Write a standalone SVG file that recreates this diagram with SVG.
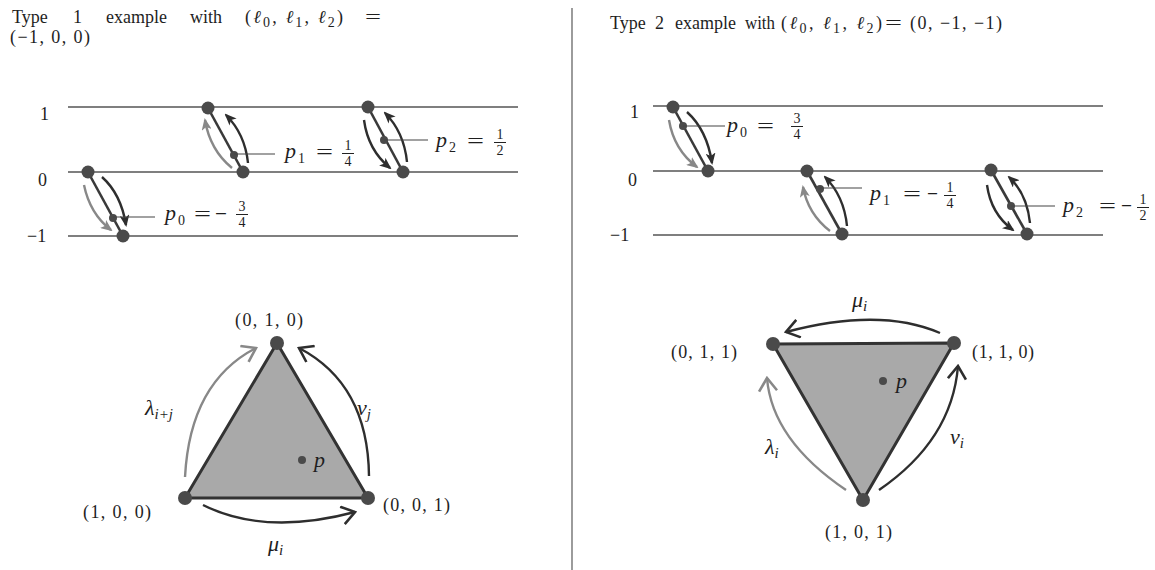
<svg xmlns="http://www.w3.org/2000/svg" width="1155" height="570" viewBox="0 0 1155 570">
<style>
  text { font-family: "Liberation Serif", "DejaVu Serif", serif; fill: #1e1e1e; }
  .t { font-size: 18px; }
  .m { font-size: 22px; font-style: italic; }
  .n { font-size: 18px; }
  .eq { font-size: 22px; }
  .s { font-size: 15px; font-style: italic; }
  .sn { font-size: 14px; }
  .fr { font-size: 14px; text-anchor: middle; }
  .lvl { stroke: #555; stroke-width: 1.3; fill: none; }
  .seg { stroke: #3a3a3a; stroke-width: 2.6; }
  .dot { fill: #4a4a4a; }
  .ad { fill: none; stroke: #2e2e2e; stroke-width: 2.4; }
  .ag { fill: none; stroke: #888; stroke-width: 2.4; }
  .lead { stroke: #444; stroke-width: 1.2; }
  .bar { stroke: #222; stroke-width: 1; }
  .tri { fill: #a9a9a9; stroke: #333; stroke-width: 3; stroke-linejoin: round; }
</style>
<defs>
  <marker id="hd" viewBox="0 0 12 10" refX="10" refY="5" markerWidth="12" markerHeight="10" orient="auto" markerUnits="userSpaceOnUse">
    <path d="M0,0 L12,5 L0,10 L3,5 z" fill="#2e2e2e"/>
  </marker>
  <marker id="hg" viewBox="0 0 12 10" refX="10" refY="5" markerWidth="12" markerHeight="10" orient="auto" markerUnits="userSpaceOnUse">
    <path d="M0,0 L12,5 L0,10 L3,5 z" fill="#888"/>
  </marker>
  <marker id="cd" viewBox="0 0 16 20" refX="14" refY="10" markerWidth="16" markerHeight="20" orient="auto" markerUnits="userSpaceOnUse">
    <path d="M1,1 L14,10 L1,19" fill="none" stroke="#2e2e2e" stroke-width="2.6"/>
  </marker>
  <marker id="cg" viewBox="0 0 16 20" refX="14" refY="10" markerWidth="16" markerHeight="20" orient="auto" markerUnits="userSpaceOnUse">
    <path d="M1,1 L14,10 L1,19" fill="none" stroke="#888" stroke-width="2.6"/>
  </marker>
</defs>

<!-- divider -->
<line x1="572" y1="8" x2="572" y2="570" stroke="#666" stroke-width="1.3"/>

<!-- titles -->
<g id="title1">
  <text class="t" x="12" y="23">Type</text>
  <text class="t" x="73" y="23">1</text>
  <text class="t" x="106" y="23">example</text>
  <text class="t" x="190" y="23">with</text>
  <text class="t" x="245" y="23" font-size="20" textLength="98" lengthAdjust="spacing">(<tspan font-style="italic">ℓ</tspan><tspan class="sn" dy="4">0</tspan><tspan dy="-4">, </tspan><tspan font-style="italic">ℓ</tspan><tspan class="sn" dy="4">1</tspan><tspan dy="-4">, </tspan><tspan font-style="italic">ℓ</tspan><tspan class="sn" dy="4">2</tspan><tspan dy="-4">)</tspan></text>
  <text class="t" x="365" y="23" textLength="16" lengthAdjust="spacingAndGlyphs">=</text>
  <text class="t" x="10" y="43" font-size="19" textLength="80" lengthAdjust="spacing">(−1, 0, 0)</text>
</g>
<g id="title2">
  <text class="t" x="610" y="29">Type</text>
  <text class="t" x="655" y="29">2</text>
  <text class="t" x="675" y="29">example</text>
  <text class="t" x="745" y="29" textLength="30" lengthAdjust="spacingAndGlyphs">with</text>
  <text class="t" x="781" y="29" font-size="20" textLength="101" lengthAdjust="spacing">(<tspan font-style="italic">ℓ</tspan><tspan class="sn" dy="4">0</tspan><tspan dy="-4">, </tspan><tspan font-style="italic">ℓ</tspan><tspan class="sn" dy="4">1</tspan><tspan dy="-4">, </tspan><tspan font-style="italic">ℓ</tspan><tspan class="sn" dy="4">2</tspan><tspan dy="-4">)</tspan></text>
  <text class="t" x="885" y="29" textLength="17" lengthAdjust="spacingAndGlyphs">=</text>
  <text class="t" x="910" y="29" font-size="19" textLength="92" lengthAdjust="spacing">(0, −1, −1)</text>
</g>

<!-- level lines left -->
<g id="levels-left">
  <line class="lvl" x1="68" y1="107" x2="518" y2="107"/>
  <line class="lvl" x1="68" y1="172" x2="518" y2="172"/>
  <line class="lvl" x1="68" y1="236" x2="518" y2="236"/>
  <text class="n" x="40" y="120">1</text>
  <text class="n" x="38" y="186">0</text>
  <text class="n" x="27" y="242">−1</text>
</g>
<!-- level lines right -->
<g id="levels-right">
  <line class="lvl" x1="653" y1="106" x2="1103" y2="106"/>
  <line class="lvl" x1="653" y1="171" x2="1103" y2="171"/>
  <line class="lvl" x1="653" y1="235" x2="1103" y2="235"/>
  <text class="n" x="630" y="118">1</text>
  <text class="n" x="628" y="186">0</text>
  <text class="n" x="610" y="241">−1</text>
</g>

<!-- connectors (arrows) -->
<g id="connectors">
  <!-- left segments -->
  <path class="ad" d="M102,177 Q121,194 126,225" marker-end="url(#hd)"/>
  <path class="ag" d="M84,185 Q90,214 111,230" marker-end="url(#hg)"/>
  <path class="ad" d="M248,163 Q245,134 226,115" marker-end="url(#hd)"/>
  <path class="ag" d="M232,168 Q210,150 205,120" marker-end="url(#hg)"/>
  <path class="ad" d="M407,162 Q404,132 385,113" marker-end="url(#hd)"/>
  <path class="ad" d="M364,120 Q368,150 390,168" marker-end="url(#hd)"/>
  <!-- right segments -->
  <path class="ad" d="M687,112 Q707,130 712,163" marker-end="url(#hd)"/>
  <path class="ag" d="M669,120 Q674,150 697,167" marker-end="url(#hg)"/>
  <path class="ad" d="M847,226 Q844,196 825,177" marker-end="url(#hd)"/>
  <path class="ag" d="M830,231 Q808,214 803,187" marker-end="url(#hg)"/>
  <path class="ad" d="M1030,223 Q1027,194 1009,177" marker-end="url(#hd)"/>
  <path class="ad" d="M987,185 Q991,214 1013,230" marker-end="url(#hd)"/>
  <!-- left triangle arrows -->
  <path class="ag" d="M185,477 Q190,382 256,348" marker-end="url(#cg)"/>
  <path class="ad" d="M369,476 Q368,384 299,348" marker-end="url(#cd)"/>
  <path class="ad" d="M203,505 Q265,536 355,512" marker-end="url(#cd)"/>
  <!-- right triangle arrows -->
  <path class="ad" d="M940,333 Q880,307 786,332" marker-end="url(#cd)"/>
  <path class="ag" d="M846,490 Q772,440 767,378" marker-end="url(#cg)"/>
  <path class="ad" d="M879,490 Q952,440 958,366" marker-end="url(#cd)"/>
</g>

<!-- left segment nodes -->
<g id="seg-left-0">
  <line class="seg" x1="88" y1="172" x2="123" y2="236"/>
  <circle class="dot" cx="88" cy="172" r="6.5"/>
  <circle class="dot" cx="123" cy="236" r="6.5"/>
  <circle class="dot" cx="113" cy="218" r="4"/>
  <line class="lead" x1="113" y1="217" x2="155" y2="217"/>
  <text class="m" x="165" y="220">p</text><text class="sn" x="178" y="225">0</text>
  <text class="eq" x="194" y="221" textLength="17" lengthAdjust="spacingAndGlyphs">=</text>
  <text class="eq" x="215" y="221" textLength="12" lengthAdjust="spacingAndGlyphs">−</text>
  <text class="fr" x="242" y="211">3</text><line class="bar" x1="236" y1="214.5" x2="248" y2="214.5"/><text class="fr" x="242" y="227">4</text>
</g>
<g id="seg-left-1">
  <line class="seg" x1="208" y1="108" x2="243" y2="172"/>
  <circle class="dot" cx="208" cy="108" r="6.5"/>
  <circle class="dot" cx="243" cy="172" r="6.5"/>
  <circle class="dot" cx="234" cy="155" r="4"/>
  <line class="lead" x1="234" y1="154" x2="275" y2="154"/>
  <text class="m" x="285" y="158">p</text><text class="sn" x="298" y="163">1</text>
  <text class="eq" x="316" y="159" textLength="17" lengthAdjust="spacingAndGlyphs">=</text>
  <text class="fr" x="348" y="150">1</text><line class="bar" x1="342" y1="153.5" x2="354" y2="153.5"/><text class="fr" x="348" y="166">4</text>
</g>
<g id="seg-left-2">
  <line class="seg" x1="368" y1="107" x2="403" y2="172"/>
  <circle class="dot" cx="368" cy="107" r="6.5"/>
  <circle class="dot" cx="403" cy="172" r="6.5"/>
  <circle class="dot" cx="384" cy="140" r="4"/>
  <line class="lead" x1="384" y1="140" x2="428" y2="140"/>
  <text class="m" x="436" y="147">p</text><text class="sn" x="449" y="152">2</text>
  <text class="eq" x="467" y="148" textLength="17" lengthAdjust="spacingAndGlyphs">=</text>
  <text class="fr" x="500" y="139">1</text><line class="bar" x1="494" y1="142.5" x2="506" y2="142.5"/><text class="fr" x="500" y="155">2</text>
</g>

<!-- right segment nodes -->
<g id="seg-right-0">
  <line class="seg" x1="673" y1="107" x2="708" y2="171"/>
  <circle class="dot" cx="673" cy="107" r="6.5"/>
  <circle class="dot" cx="708" cy="171" r="6.5"/>
  <circle class="dot" cx="683" cy="126" r="4"/>
  <line class="lead" x1="683" y1="126" x2="725" y2="126"/>
  <text class="m" x="727" y="132">p</text><text class="sn" x="740" y="137">0</text>
  <text class="eq" x="757" y="133" textLength="17" lengthAdjust="spacingAndGlyphs">=</text>
  <text class="fr" x="797" y="123">3</text><line class="bar" x1="791" y1="126.5" x2="803" y2="126.5"/><text class="fr" x="797" y="139">4</text>
</g>
<g id="seg-right-1">
  <line class="seg" x1="807" y1="171" x2="842" y2="234"/>
  <circle class="dot" cx="807" cy="171" r="6.5"/>
  <circle class="dot" cx="842" cy="234" r="6.5"/>
  <circle class="dot" cx="820" cy="189" r="4"/>
  <line class="lead" x1="820" y1="188" x2="862" y2="188"/>
  <text class="m" x="870" y="200">p</text><text class="sn" x="883" y="205">1</text>
  <text class="eq" x="903" y="201" textLength="18" lengthAdjust="spacingAndGlyphs">=</text>
  <text class="eq" x="927" y="201" textLength="11" lengthAdjust="spacingAndGlyphs">−</text>
  <text class="fr" x="950" y="192">1</text><line class="bar" x1="944" y1="195.5" x2="956" y2="195.5"/><text class="fr" x="950" y="208">4</text>
</g>
<g id="seg-right-2">
  <line class="seg" x1="991" y1="170" x2="1027" y2="234"/>
  <circle class="dot" cx="991" cy="170" r="6.5"/>
  <circle class="dot" cx="1027" cy="234" r="6.5"/>
  <circle class="dot" cx="1011" cy="206" r="4"/>
  <line class="lead" x1="1011" y1="206" x2="1055" y2="206"/>
  <text class="m" x="1063" y="212">p</text><text class="sn" x="1076" y="217">2</text>
  <text class="eq" x="1099" y="213" textLength="17" lengthAdjust="spacingAndGlyphs">=</text>
  <text class="eq" x="1121" y="213" textLength="11" lengthAdjust="spacingAndGlyphs">−</text>
  <text class="fr" x="1143" y="204">1</text><line class="bar" x1="1137" y1="207.5" x2="1149" y2="207.5"/><text class="fr" x="1143" y="220">2</text>
</g>

<!-- left triangle -->
<g id="triangle-left">
  <polygon class="tri" points="185,498 277,343 368,498"/>
  <circle class="dot" cx="277" cy="343" r="7"/>
  <circle class="dot" cx="185" cy="498" r="7"/>
  <circle class="dot" cx="368" cy="498" r="7"/>
  <circle class="dot" cx="302" cy="460" r="4"/>
  <text class="m" x="314" y="467" font-size="19">p</text>
  <text class="n" x="269" y="326" text-anchor="middle" textLength="68" lengthAdjust="spacing">(0, 1, 0)</text>
  <text class="n" x="83" y="518" textLength="68" lengthAdjust="spacing">(1, 0, 0)</text>
  <text class="n" x="383" y="511" textLength="67" lengthAdjust="spacing">(0, 0, 1)</text>
  <text class="m" x="145" y="415">λ<tspan class="s" dy="4">i+j</tspan></text>
  <text class="m" x="357" y="415">ν<tspan class="s" dy="4">j</tspan></text>
  <text class="m" x="268" y="551">μ<tspan class="s" dy="4">i</tspan></text>
</g>

<!-- right triangle -->
<g id="triangle-right">
  <polygon class="tri" points="773,344 954,343 863,500"/>
  <circle class="dot" cx="773" cy="344" r="7"/>
  <circle class="dot" cx="954" cy="343" r="7"/>
  <circle class="dot" cx="863" cy="500" r="7"/>
  <circle class="dot" cx="883" cy="381" r="4"/>
  <text class="m" x="896" y="388" font-size="19">p</text>
  <text class="n" x="671" y="358" textLength="66" lengthAdjust="spacing">(0, 1, 1)</text>
  <text class="n" x="972" y="358" textLength="62" lengthAdjust="spacing">(1, 1, 0)</text>
  <text class="n" x="825" y="538" textLength="67" lengthAdjust="spacing">(1, 0, 1)</text>
  <text class="m" x="852" y="307">μ<tspan class="s" dy="4">i</tspan></text>
  <text class="m" x="765" y="454">λ<tspan class="s" dy="4">i</tspan></text>
  <text class="m" x="950" y="444">ν<tspan class="s" dy="4">i</tspan></text>
</g>
</svg>
